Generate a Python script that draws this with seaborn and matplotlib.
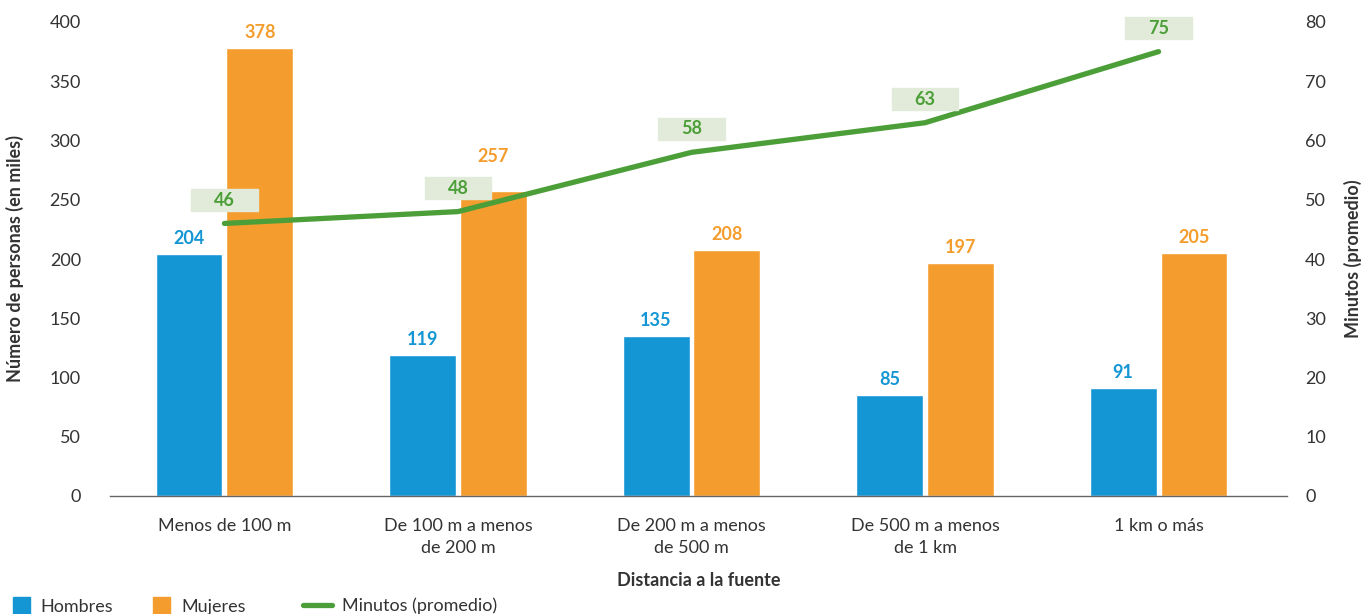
import pandas as pd
import matplotlib.pyplot as plt
import seaborn as sns
from matplotlib.patches import Rectangle, Patch
from matplotlib.lines import Line2D

# Datos
distancias = ['Menos de 100 m', 'De 100 m a menos\nde 200 m', 'De 200 m a menos\nde 500 m',
              'De 500 m a menos\nde 1 km', '1 km o más']
hombres = [204, 119, 135, 85, 91]
mujeres = [378, 257, 208, 197, 205]
minutos = [46, 48, 58, 63, 75]

azul = '#1496d4'
naranja = '#f49d2e'
verde = '#4c9f38'
caja = '#e2ebd9'
gris = '#333333'
fs = 13

df = pd.DataFrame({
    'Distancia': distancias * 2,
    'Sexo': ['Hombres'] * 5 + ['Mujeres'] * 5,
    'Personas': hombres + mujeres,
})

sns.set_style('white')
plt.rcParams['font.family'] = ['Lato', 'DejaVu Sans']

fig = plt.figure(figsize=(13.64, 6.14), dpi=100)
ax = fig.add_axes([110 / 1364, 1 - 496 / 614, (1287 - 110) / 1364, (496 - 22) / 614])

sns.barplot(data=df, x='Distancia', y='Personas', hue='Sexo', order=distancias,
            palette={'Hombres': azul, 'Mujeres': naranja}, width=0.607, gap=0.056,
            saturation=1, legend=False, ax=ax)

# etiquetas de las barras (257 sube para no chocar con la caja del 48)
extra = {257: 14}
for cont, col, vals in zip(ax.containers, [azul, naranja], [hombres, mujeres]):
    for bar, v in zip(cont, vals):
        ax.annotate(str(v), (bar.get_x() + bar.get_width() / 2, bar.get_height()),
                    xytext=(0, 5 + extra.get(v, 0)), textcoords='offset points',
                    ha='center', va='bottom', color=col, fontweight='bold', fontsize=fs)

ax.set_ylim(0, 400)
ax.set_yticks(range(0, 401, 50))
ax.set_xlim(-0.49, 4.55)
ax.tick_params(axis='y', length=0, pad=21, labelsize=fs, labelcolor=gris)
ax.tick_params(axis='x', length=0, pad=16, labelsize=fs, labelcolor=gris)
for lab in ax.get_xticklabels():
    lab.set_linespacing(1.45)
for s in ['top', 'right', 'left']:
    ax.spines[s].set_visible(False)
ax.spines['bottom'].set_color('#666666')
ax.spines['bottom'].set_linewidth(1)
ax.set_ylabel('Número de personas (en miles)', fontweight='bold', fontsize=fs, color=gris)
ax.yaxis.set_label_coords(-0.073, 0.5)
ax.set_xlabel('Distancia a la fuente', fontweight='bold', fontsize=fs, color=gris)
ax.xaxis.set_label_coords(0.5, -0.16)

# Eje secundario: minutos
ax2 = ax.twinx()
sns.lineplot(x=list(range(5)), y=minutos, color=verde, linewidth=3.8, ax=ax2)
ax2.set_ylim(0, 80)
ax2.set_yticks(range(0, 81, 10))
ax2.tick_params(axis='y', length=0, pad=13, labelsize=fs, labelcolor=gris)
for s in ['top', 'right', 'left', 'bottom']:
    ax2.spines[s].set_visible(False)
ax2.set_ylabel('Minutos (promedio)', fontweight='bold', fontsize=fs, color=gris)
ax2.yaxis.set_label_coords(1.048, 0.5)

w = 0.286
for i, v in enumerate(minutos):
    ax2.add_patch(Rectangle((i - w / 2, v + 2.1), w, 3.7, color=caja, zorder=3,
                            clip_on=False))
    ax2.text(i, v + 3.95, str(v), ha='center', va='center', color=verde,
             fontweight='bold', fontsize=fs, zorder=4)

leg1 = fig.legend(handles=[Patch(color=azul, label='Hombres'),
                           Patch(color=naranja, label='Mujeres')],
                  loc='center left', bbox_to_anchor=(0.0, 8 / 614), ncol=2,
                  frameon=False, fontsize=fs, labelcolor=gris, handlelength=0.95,
                  handleheight=1.0, columnspacing=2.2, handletextpad=0.6, borderaxespad=0.3)
fig.legend(handles=[Line2D([0], [0], color=verde, linewidth=3.8, label='Minutos (promedio)')],
           loc='center left', bbox_to_anchor=(290 / 1364, 8 / 614),
           frameon=False, fontsize=fs, labelcolor=gris, handlelength=1.6,
           handletextpad=0.6, borderaxespad=0.3)

fig.savefig('out.png', dpi=100)
